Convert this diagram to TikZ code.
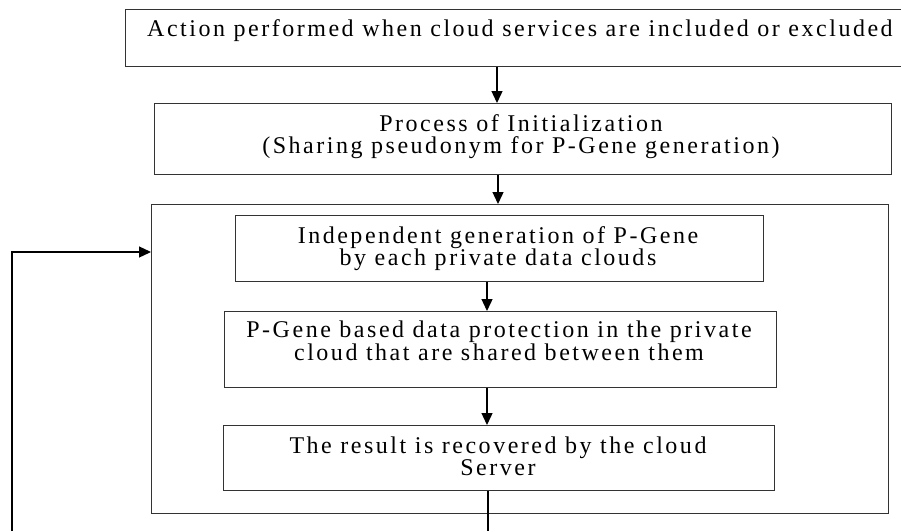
\documentclass[tikz,border=0pt]{standalone}
\usepackage{fontspec}
\setmainfont{Liberation Serif}[LetterSpace=10.5]
\usetikzlibrary{arrows.meta}
\begin{document}
\begin{tikzpicture}[x=1pt,y=-1pt,
  box/.style={draw=black!80, line width=1.3pt, inner sep=0pt, anchor=north west},
  lbl/.style={font=\fontsize{24}{26}\selectfont, inner sep=0pt, anchor=base, text=black},
  arr/.style={draw=black, line width=1.3pt, -{Triangle[length=12pt,width=11pt]}},
  ln/.style={draw=black, line width=1.3pt}]
\useasboundingbox (0,0) rectangle (901,531);
% boxes
\node[box, minimum width=790pt, minimum height=57pt] (top) at (125,9) {};
\node[box, minimum width=737pt, minimum height=71pt] (proc) at (154,103) {};
\node[box, minimum width=737pt, minimum height=309pt] (outer) at (151,204) {};
\node[box, minimum width=528pt, minimum height=66pt] (b1) at (235,215) {};
\node[box, minimum width=552pt, minimum height=76pt] (b2) at (224,311) {};
\node[box, minimum width=551pt, minimum height=65pt] (b3) at (223,425) {};
% texts
\node[lbl, anchor=base west] (ttop) at (147,36) {Action performed when cloud services are included or excluded};
\node[lbl] (tp1) at (521,131) {Process of Initialization};
\node[lbl] (tp2) at (521,153) {(Sharing pseudonym for P-Gene generation)};
\node[lbl] (t1a) at (498,243) {Independent generation of P-Gene};
\node[lbl] (t1b) at (498,265) {by each private data clouds};
\node[lbl] (t2a) at (499,337) {P-Gene based data protection in the private};
\node[lbl] (t2b) at (499,360) {cloud that are shared between them};
\node[lbl] (t3a) at (498,453) {The result is recovered by the cloud};
\node[lbl] (t3b) at (498,475) {Server};
% connectors
\coordinate (c1) at (497,0);
\coordinate (c2) at (498,0);
\coordinate (c3) at (487,0);
\coordinate (bot) at (488,531);
\coordinate (fb0) at (12,531);
\coordinate (fbturn) at (12,252);
\draw[arr] (top.south -| c1) -- (proc.north -| c1);
\draw[arr] (proc.south -| c2) -- (outer.north -| c2);
\draw[arr] (b1.south -| c3) -- (b2.north -| c3);
\draw[arr] (b2.south -| c3) -- (b3.north -| c3);
\draw[ln] (b3.south -| bot) -- (bot);
\draw[arr] (fb0) -- (fbturn) -- (fbturn -| outer.west);
\end{tikzpicture}
\end{document}
